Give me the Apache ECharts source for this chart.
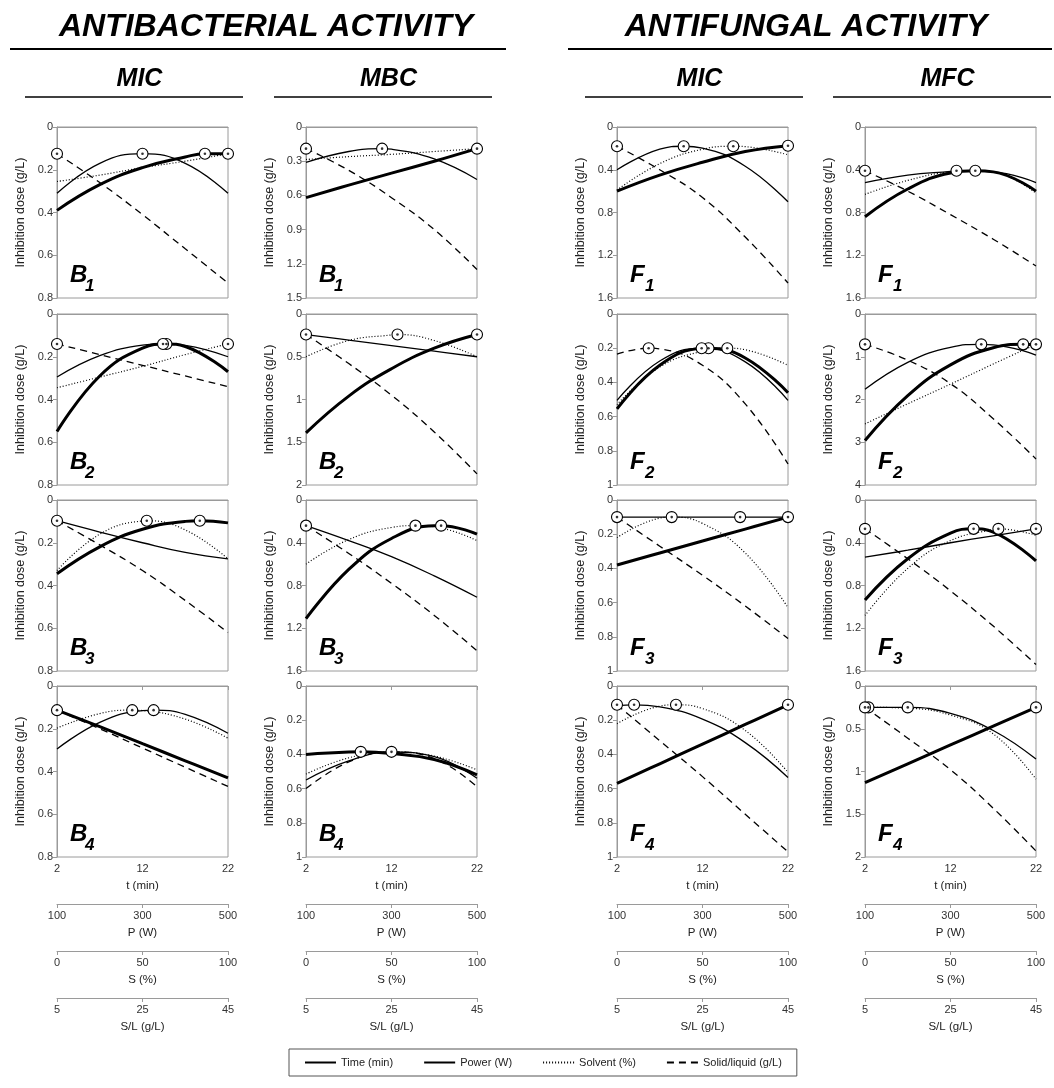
<!DOCTYPE html>
<html><head><meta charset="utf-8">
<script src="https://cdn.jsdelivr.net/npm/echarts@6/dist/echarts.min.js"></script>
<style>html,body{margin:0;padding:0;background:#fff}#c{width:1054px;height:1088px}</style>
</head><body><div id="c"></div><script>
// ---------- DATA ----------
const T = [2, 7, 12, 17, 22];
const FACTORS = ['Time (min)', 'Power (W)', 'Solvent (%)', 'Solid/liquid (g/L)'];
// each panel: rows = Time, Power, Solvent, Solid/liquid ; values at T
const B1_MIC = [[0.39,0.27,0.19,0.14,0.125],[0.31,0.17,0.125,0.17,0.31],[0.255,0.225,0.19,0.16,0.125],[0.125,0.26,0.41,0.57,0.73]];
const B1_MIC_OPT = [[19.3,0.125],[12,0.125],[22,0.125],[2,0.125]];
const B1_MBC = [[0.62,0.51,0.405,0.30,0.19],[0.31,0.215,0.195,0.28,0.46],[0.285,0.26,0.24,0.215,0.19],[0.19,0.38,0.62,0.90,1.25]];
const B1_MBC_OPT = [[22,0.19],[10.9,0.19],[22,0.19],[2,0.19]];
const F1_MIC = [[0.60,0.45,0.33,0.23,0.175],[0.40,0.208,0.197,0.367,0.70],[0.59,0.343,0.208,0.184,0.26],[0.18,0.40,0.66,1.03,1.46]];
const F1_MIC_OPT = [[22,0.175],[9.8,0.18],[15.6,0.18],[2,0.18]];
const F1_MFC = [[0.84,0.58,0.43,0.42,0.60],[0.52,0.45,0.415,0.42,0.52],[0.63,0.50,0.42,0.42,0.62],[0.41,0.60,0.82,1.05,1.30]];
const F1_MFC_OPT = [[14.9,0.41],[12.7,0.41],[14.9,0.41],[2,0.41]];

const B2_MIC = [[0.55,0.29,0.16,0.152,0.27],[0.295,0.195,0.146,0.147,0.20],[0.345,0.295,0.245,0.19,0.14],[0.14,0.19,0.24,0.29,0.34]];
const B2_MIC_OPT = [[14.8,0.14],[14.4,0.14],[22,0.14],[2,0.14]];
const B2_MBC = [[1.39,0.96,0.64,0.40,0.24],[0.24,0.305,0.37,0.435,0.50],[0.50,0.31,0.245,0.31,0.50],[0.24,0.58,0.95,1.38,1.87]];
const B2_MBC_OPT = [[22,0.24],[2,0.24],[12.7,0.24],[2,0.24]];
const F2_MIC = [[0.555,0.30,0.201,0.257,0.46],[0.505,0.275,0.20,0.28,0.505],[0.53,0.31,0.217,0.209,0.30],[0.235,0.204,0.30,0.526,0.877]];
const F2_MIC_OPT = [[12.7,0.2],[11.9,0.2],[14.9,0.2],[5.7,0.2]];
const F2_MFC = [[2.96,1.91,1.19,0.79,0.72],[1.76,1.13,0.78,0.72,0.96],[2.57,2.10,1.64,1.17,0.71],[0.71,1.08,1.63,2.45,3.39]];
const F2_MFC_OPT = [[20.5,0.71],[15.6,0.71],[22,0.71],[2,0.71]];

const B3_MIC = [[0.345,0.219,0.137,0.10,0.107],[0.097,0.15,0.20,0.245,0.275],[0.33,0.16,0.098,0.14,0.275],[0.097,0.21,0.33,0.47,0.62]];
const B3_MIC_OPT = [[18.7,0.097],[2,0.097],[12.5,0.097],[2,0.097]];
const B3_MBC = [[1.11,0.65,0.36,0.24,0.32],[0.24,0.38,0.53,0.71,0.91],[0.60,0.37,0.257,0.25,0.38],[0.24,0.50,0.78,1.08,1.41]];
const B3_MBC_OPT = [[17.8,0.24],[2,0.24],[14.8,0.24],[2,0.24]];
const F3_MIC = [[0.38,0.31,0.24,0.17,0.10],[0.10,0.10,0.10,0.10,0.10],[0.22,0.106,0.137,0.31,0.63],[0.10,0.27,0.44,0.62,0.81]];
const F3_MIC_OPT = [[22,0.1],[16.4,0.1],[8.4,0.1],[2,0.1]];
const F3_MFC = [[0.935,0.55,0.31,0.30,0.57],[0.535,0.47,0.40,0.335,0.27],[1.08,0.64,0.38,0.275,0.33],[0.27,0.55,0.85,1.18,1.54]];
const F3_MFC_OPT = [[14.7,0.27],[22,0.27],[17.6,0.27],[2,0.27]];

const B4_MIC = [[0.113,0.19,0.27,0.35,0.43],[0.295,0.17,0.115,0.133,0.221],[0.197,0.129,0.115,0.155,0.244],[0.113,0.20,0.29,0.38,0.47]];
const B4_MIC_OPT = [[2,0.113],[13.3,0.113],[10.8,0.113],[2,0.113]];
const B4_MBC = [[0.40,0.386,0.395,0.43,0.52],[0.55,0.438,0.386,0.413,0.54],[0.515,0.42,0.386,0.41,0.49],[0.60,0.444,0.386,0.425,0.59]];
const B4_MBC_OPT = [[8.4,0.385],[12,0.385],[12,0.385],[12,0.385]];
const F4_MIC = [[0.57,0.455,0.34,0.225,0.11],[0.115,0.122,0.194,0.331,0.535],[0.22,0.118,0.132,0.26,0.505],[0.11,0.32,0.53,0.75,0.97]];
const F4_MIC_OPT = [[22,0.11],[4,0.11],[8.9,0.11],[2,0.11]];
const F4_MFC = [[1.13,0.91,0.69,0.47,0.25],[0.25,0.25,0.32,0.52,0.855],[0.25,0.26,0.34,0.56,1.09],[0.25,0.61,0.98,1.43,1.93]];
const F4_MFC_OPT = [[22,0.25],[7,0.25],[2.4,0.25],[2,0.25]];

const Y_MAX  = [[0.8,1.5,1.6,1.6],[0.8,2,1,4],[0.8,1.6,1,1.6],[0.8,1,1,2]];
const Y_STEP = [[0.2,0.3,0.4,0.4],[0.2,0.5,0.2,1],[0.2,0.4,0.2,0.4],[0.2,0.2,0.2,0.5]];
const X_TICKS = [2, 12, 22];
const P_TICKS = [100, 300, 500];
const S_TICKS = [0, 50, 100];
const SL_TICKS = [5, 25, 45];
const LETTERS = ['B', 'B', 'F', 'F'];
const GROUP_TITLES = ['ANTIBACTERIAL ACTIVITY', 'ANTIFUNGAL ACTIVITY'];
const COL_TITLES = ['MIC', 'MBC', 'MIC', 'MFC'];

// ---------- LAYOUT ----------
const PANELS = [[B1_MIC,B1_MBC,F1_MIC,F1_MFC],[B2_MIC,B2_MBC,F2_MIC,F2_MFC],[B3_MIC,B3_MBC,F3_MIC,F3_MFC],[B4_MIC,B4_MBC,F4_MIC,F4_MFC]];
const OPTS = [[B1_MIC_OPT,B1_MBC_OPT,F1_MIC_OPT,F1_MFC_OPT],[B2_MIC_OPT,B2_MBC_OPT,F2_MIC_OPT,F2_MFC_OPT],[B3_MIC_OPT,B3_MBC_OPT,F3_MIC_OPT,F3_MFC_OPT],[B4_MIC_OPT,B4_MBC_OPT,F4_MIC_OPT,F4_MFC_OPT]];
const COL_X = [57, 306, 617, 865];
const ROW_Y = [127, 314, 500, 686];
const PW = 171, PH = 171;
const EXTRA = [
  {ticks: P_TICKS, name: 'P (W)', y: 904},
  {ticks: S_TICKS, name: 'S (%)', y: 951},
  {ticks: SL_TICKS, name: 'S/L (g/L)', y: 998}
];
const FONT = '"Liberation Sans", Arial, Helvetica, sans-serif';
const AX = '#9a9a9a';
const LINE_STYLES = [
  {color:'#000', width:3, type:'solid'},
  {color:'#000', width:1.3, type:'solid'},
  {color:'#000', width:1.2, type:[1,2]},
  {color:'#000', width:1.3, type:[7,5]}
];

const grids = [], xAxes = [], yAxes = [], series = [], graphic = [];

for (let r = 0; r < 4; r++) {
  for (let c = 0; c < 4; c++) {
    const g = grids.length;
    grids.push({left: COL_X[c], top: ROW_Y[r], width: PW, height: PH, show: true, borderColor: AX, borderWidth: 1, backgroundColor: 'transparent'});
    const last = r === 3;
    xAxes.push({
      type: 'value', gridIndex: g, min: 2, max: 22,
      axisLine: {show: true, lineStyle: {color: AX}},
      axisTick: {show: last, length: 4, lineStyle: {color: AX}, customValues: X_TICKS},
      axisLabel: {show: last, fontSize: 11, color: '#333', margin: 6, customValues: X_TICKS},
      splitLine: {show: false},
      name: last ? 't (min)' : '', nameLocation: 'middle', nameGap: 23,
      nameTextStyle: {fontSize: 11.5, color: '#222'}
    });
    yAxes.push({
      type: 'value', gridIndex: g, inverse: true, min: 0, max: Y_MAX[r][c], interval: Y_STEP[r][c],
      axisLine: {show: true, lineStyle: {color: AX}},
      axisTick: {show: true, length: 4, lineStyle: {color: AX}},
      axisLabel: {fontSize: 11, color: '#333', margin: 4},
      splitLine: {show: false},
      name: 'Inhibition dose (g/L)', nameLocation: 'middle', nameRotate: 90, nameGap: 30,
      nameTextStyle: {fontSize: 12.5, color: '#222'}
    });
    const vals = PANELS[r][c], opts = OPTS[r][c];
    for (let k = 0; k < 4; k++) {
      const pts = T.map((t, i) => [t, vals[k][i]]);
      const o = opts[k];
      if (!T.includes(o[0])) { pts.push([o[0], o[1]]); pts.sort((a, b) => a[0] - b[0]); }
      series.push({
        type: 'line', name: FACTORS[k], xAxisIndex: g, yAxisIndex: g,
        data: pts, smooth: 0.45, symbol: 'none', showSymbol: false,
        lineStyle: LINE_STYLES[k], itemStyle: {color: '#000'}, z: 3, silent: true
      });
    }
    // unique optimum markers
    const uniq = [];
    opts.forEach(o => { if (!uniq.some(u => Math.abs(u[0] - o[0]) < 1e-9 && Math.abs(u[1] - o[1]) < 1e-9)) uniq.push([o[0], o[1]]); });
    series.push({
      type: 'scatter', name: 'opt', xAxisIndex: g, yAxisIndex: g, data: uniq.map(u => u.slice()),
      symbol: 'circle', symbolSize: 11, itemStyle: {color: '#fff', borderColor: '#000', borderWidth: 1.1, opacity: 1},
      emphasis: {disabled: true}, z: 5, silent: true
    });
    series.push({
      type: 'scatter', name: 'optdot', xAxisIndex: g, yAxisIndex: g, data: uniq.map(u => u.slice()),
      symbol: 'circle', symbolSize: 2.6, itemStyle: {color: '#000'}, emphasis: {disabled: true}, z: 6, silent: true
    });
    // panel label with subscript
    graphic.push({type: 'text', x: COL_X[c] + 13, y: ROW_Y[r] + PH - 23,
      style: {text: LETTERS[c], font: 'italic bold 24px ' + FONT, fill: '#000', textAlign: 'left', textVerticalAlign: 'middle'}});
    graphic.push({type: 'text', x: COL_X[c] + 28, y: ROW_Y[r] + PH - 12,
      style: {text: String(r + 1), font: 'italic bold 17px ' + FONT, fill: '#000', textAlign: 'left', textVerticalAlign: 'middle'}});
  }
}

// extra parameter axes under each column
for (let c = 0; c < 4; c++) {
  EXTRA.forEach(e => {
    const g = grids.length;
    grids.push({left: COL_X[c], top: e.y - 1, width: PW, height: 1, show: false});
    const lo = e.ticks[0], hi = e.ticks[e.ticks.length - 1];
    xAxes.push({
      type: 'value', gridIndex: g, min: lo, max: hi,
      axisLine: {show: true, lineStyle: {color: AX}},
      axisTick: {show: true, length: 4, lineStyle: {color: AX}, customValues: e.ticks},
      axisLabel: {show: true, fontSize: 11, color: '#333', margin: 6, customValues: e.ticks},
      splitLine: {show: false},
      name: e.name, nameLocation: 'middle', nameGap: 23, nameTextStyle: {fontSize: 11.5, color: '#222'}
    });
    yAxes.push({type: 'value', gridIndex: g, min: 0, max: 1, show: false});
  });
}

// headers
const GROUP_CX = [266, 806];
const GROUP_LINE = [[10, 506], [568, 1052]];
for (let i = 0; i < 2; i++) {
  graphic.push({type: 'text', x: GROUP_CX[i], y: 27,
    style: {text: GROUP_TITLES[i], font: 'italic bold 32px ' + FONT, fill: '#000', textAlign: 'center', textVerticalAlign: 'middle'}});
  graphic.push({type: 'line', shape: {x1: GROUP_LINE[i][0], y1: 49, x2: GROUP_LINE[i][1], y2: 49}, style: {stroke: '#000', lineWidth: 2}});
}
for (let c = 0; c < 4; c++) {
  graphic.push({type: 'text', x: COL_X[c] + PW / 2 - 3, y: 79,
    style: {text: COL_TITLES[c], font: 'italic bold 25px ' + FONT, fill: '#000', textAlign: 'center', textVerticalAlign: 'middle'}});
  graphic.push({type: 'line', shape: {x1: COL_X[c] - 32, y1: 97, x2: COL_X[c] + PW + 15, y2: 97}, style: {stroke: '#000', lineWidth: 1.3}});
}

const option = {
  animation: false,
  backgroundColor: '#fff',
  textStyle: {fontFamily: FONT},
  grid: grids, xAxis: xAxes, yAxis: yAxes, series: series, graphic: graphic,
  legend: {
    data: FACTORS, left: 289, top: 1049, orient: 'horizontal',
    itemWidth: 31, itemHeight: 10, itemGap: 30, padding: [8, 15, 8, 15],
    borderColor: '#555', borderWidth: 1, selectedMode: false,
    itemStyle: {opacity: 0},
    textStyle: {fontSize: 11, color: '#222', fontFamily: FONT}
  }
};
const chart = echarts.init(document.getElementById('c'), null, {renderer: 'canvas'});
chart.setOption(option);
</script></body></html>
